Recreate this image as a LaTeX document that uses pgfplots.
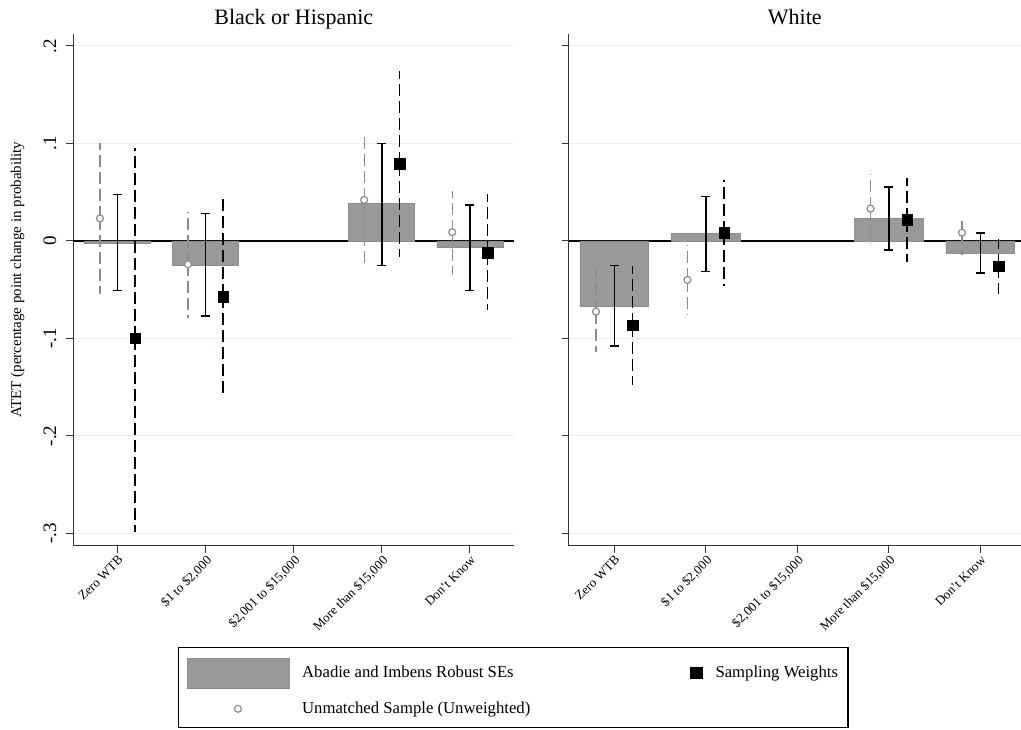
\documentclass[border=0pt]{standalone}
\usepackage{fontspec}
\setmainfont{Liberation Serif}
\usepackage{pgfplots}
\pgfplotsset{compat=1.18}
\usepackage{pgfplotstable}

\definecolor{barfill}{RGB}{153,153,153}
\definecolor{baredge}{RGB}{140,140,140}
\definecolor{ciGray}{RGB}{140,140,140}
\definecolor{gridc}{RGB}{232,240,242}

% Black or Hispanic: x, estimate, lower and upper bound
\pgfplotstableread{
x est lo hi
1 -0.003 -0.051 0.0475
2 -0.025 -0.077 0.028
4 0.038 -0.025 0.100
5 -0.007 -0.051 0.037
}\bhMatched
\pgfplotstableread{
x est lo hi
1 0.023 -0.054 0.100
2 -0.024 -0.079 0.030
4 0.042 -0.025 0.109
5 0.009 -0.035 0.051
}\bhUnmatched
\pgfplotstableread{
x est lo hi
1 -0.100 -0.299 0.095
2 -0.057 -0.160 0.0455
4 0.079 -0.016 0.174
5 -0.012 -0.071 0.048
}\bhWeighted

% White
\pgfplotstableread{
x est lo hi
1 -0.0667 -0.108 -0.025
2 0.0072 -0.0315 0.0455
4 0.0229 -0.0092 0.0554
5 -0.0127 -0.0331 0.0079
}\wMatched
\pgfplotstableread{
x est lo hi
1 -0.0725 -0.114 -0.0297
2 -0.040 -0.0759 -0.0041
4 0.0332 -0.0024 0.0687
5 0.0085 -0.0144 0.0243
}\wUnmatched
\pgfplotstableread{
x est lo hi
1 -0.0865 -0.148 -0.0256
2 0.0085 -0.046 0.0626
4 0.0215 -0.0219 0.0643
5 -0.026 -0.0547 0.002
}\wWeighted

\pgfplotsset{
  panel/.style={
    scale only axis,
    height=512pt,
    xmin=0.5, ymin=-0.313, ymax=0.2123,
    enlargelimits=false,
    axis lines=left,
    axis line style={-, black!80, line width=1pt},
    tick align=outside,
    major tick length=7pt,
    tick style={black!80, line width=1pt},
    xtick={1,2,3,4,5},
    xticklabels={Zero WTB,{\$1 to \$2,000},{\$2,001 to \$15,000},{More than \$15,000},Don't Know},
    x tick label style={rotate=45, anchor=north east, inner sep=1pt,
      font=\fontsize{13}{13}\selectfont},
    ytick={-0.3,-0.2,-0.1,0,0.1,0.2},
    yticklabel shift=9pt,
    y tick label style={rotate=90, anchor=south, inner sep=1pt,
      font=\fontsize{19}{19}\selectfont},
    ymajorgrids,
    grid style={gridc, line width=1pt},
    title style={at={(0.5,1)}, anchor=base, yshift=3pt,
      font=\fontsize{22}{22}\selectfont},
  },
  matchedci/.style={draw=none, mark=none, forget plot,
    error bars/.cd, y dir=both, y explicit, error mark=-,
    error bar style={black, line width=1.5pt},
    error mark options={rotate=90, black, line width=1.5pt, mark size=4.5pt}},
  unmatchedci/.style={draw=none, mark=none, forget plot,
    error bars/.cd, y dir=both, y explicit, error mark=none,
    error bar style={ciGray, line width=1.3pt, dash pattern=on 12pt off 5pt}},
  weightedci/.style={draw=none, mark=none, forget plot,
    error bars/.cd, y dir=both, y explicit, error mark=none,
    error bar style={black, line width=1.6pt, dash pattern=on 12pt off 5pt}},
  bars/.style={ybar, bar width=0.75, fill=barfill, draw=baredge, line width=0.8pt, forget plot},
  circ/.style={only marks, mark=*, mark size=3.5pt,
    mark options={fill=white, draw=ciGray, line width=1.2pt}, forget plot},
  sq/.style={only marks, mark=square*, mark size=5.3pt, black, forget plot},
}

\begin{document}
\begin{tikzpicture}[x=1pt,y=1pt]
\path[use as bounding box] (0,0) rectangle (1021,730);

% left panel
\begin{axis}[panel, at={(73.5pt,184pt)}, anchor=south west,
  width=440.5pt, xmax=5.5,
  yticklabels={-.3,-.2,-.1,0,.1,.2},
  title={Black or Hispanic},
  ylabel={ATET (percentage point change in probability},
  ylabel style={at={(axis description cs:-0.127,0.52)}, anchor=center, rotate=0,
    font=\fontsize{15}{15}\selectfont},
  legend columns=2,
  legend cell align=left,
  legend style={at={(0.2372,-0.1973)}, anchor=north west, draw=black, line width=1.2pt,
    font=\fontsize{16.7}{16.7}\selectfont, inner xsep=8pt, inner ysep=10pt,
    row sep=12pt,
    /tikz/every odd column/.append style={column sep=11pt},
    /tikz/every even column/.append style={column sep=158pt}},
]
\addplot[black, line width=1.4pt, forget plot] coordinates {(0.5,0) (5.5,0)};
\addplot[bars] table[x=x, y=est] {\bhMatched};
\addplot[matchedci] table[x=x, y=est, y error plus expr=\thisrow{hi}-\thisrow{est}, y error minus expr=\thisrow{est}-\thisrow{lo}] {\bhMatched};
\addplot[unmatchedci] table[x expr=\thisrow{x}-0.2, y=est, y error plus expr=\thisrow{hi}-\thisrow{est}, y error minus expr=\thisrow{est}-\thisrow{lo}] {\bhUnmatched};
\addplot[circ] table[x expr=\thisrow{x}-0.2, y=est] {\bhUnmatched};
\addplot[weightedci] table[x expr=\thisrow{x}+0.2, y=est, y error plus expr=\thisrow{hi}-\thisrow{est}, y error minus expr=\thisrow{est}-\thisrow{lo}] {\bhWeighted};
\addplot[sq] table[x expr=\thisrow{x}+0.2, y=est] {\bhWeighted};

\addlegendimage{legend image code/.code={\draw[fill=barfill, draw=baredge, line width=0.6pt] (0pt,-15pt) rectangle (102pt,15pt);}}
\addlegendentry{Abadie and Imbens Robust SEs}
\addlegendimage{legend image code/.code={\fill[black] (-5.5pt,-5.5pt) rectangle (5.5pt,5.5pt);}}
\addlegendentry{Sampling Weights}
\addlegendimage{legend image code/.code={\path[draw=none, fill=none] (0pt,-1pt) rectangle (102pt,1pt); \draw[ciGray, fill=white, line width=1.2pt] (51pt,0pt) circle (3.5pt);}}
\addlegendentry{Unmatched Sample (Unweighted)}
\end{axis}

% right panel
\begin{axis}[panel, at={(568.5pt,184pt)}, anchor=south west,
  width=452.5pt, xmax=5.445,
  yticklabels={},
  title={White},
]
\addplot[black, line width=1.4pt, forget plot] coordinates {(0.5,0) (5.5,0)};
\addplot[bars] table[x=x, y=est] {\wMatched};
\addplot[matchedci] table[x=x, y=est, y error plus expr=\thisrow{hi}-\thisrow{est}, y error minus expr=\thisrow{est}-\thisrow{lo}] {\wMatched};
\addplot[unmatchedci] table[x expr=\thisrow{x}-0.2, y=est, y error plus expr=\thisrow{hi}-\thisrow{est}, y error minus expr=\thisrow{est}-\thisrow{lo}] {\wUnmatched};
\addplot[circ] table[x expr=\thisrow{x}-0.2, y=est] {\wUnmatched};
\addplot[weightedci] table[x expr=\thisrow{x}+0.2, y=est, y error plus expr=\thisrow{hi}-\thisrow{est}, y error minus expr=\thisrow{est}-\thisrow{lo}] {\wWeighted};
\addplot[sq] table[x expr=\thisrow{x}+0.2, y=est] {\wWeighted};
\end{axis}
\end{tikzpicture}
\end{document}
